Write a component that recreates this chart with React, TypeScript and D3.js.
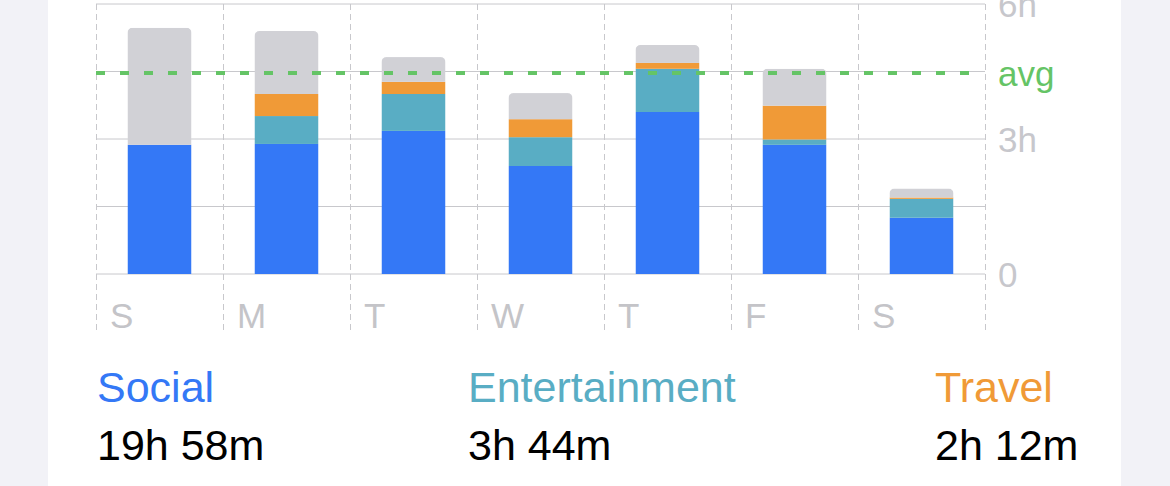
import React from "react";
import * as d3 from "d3";

const days = ["S", "M", "T", "W", "T", "F", "S"];
const social = [2.87, 2.89, 3.18, 2.4, 3.6, 2.87, 1.25];
const entertainment = [0, 0.62, 0.82, 0.64, 0.96, 0.12, 0.42];
const travel = [0, 0.49, 0.27, 0.4, 0.13, 0.75, 0.03];
const other = [2.6, 1.4, 0.55, 0.58, 0.4, 0.82, 0.2];
const yTicks = [0, 1.5, 3, 4.5, 6];
const yLabels = [
  { v: 0, t: "0" },
  { v: 3, t: "3h" },
  { v: 6, t: "6h" },
];
const legendNames = ["Social", "Entertainment", "Travel"];
const legendValues = ["19h 58m", "3h 44m", "2h 12m"];

const keys = ["social", "entertainment", "travel", "other"];
const colors: Record<string, string> = {
  social: "#3478f6",
  entertainment: "#59adc4",
  travel: "#f09a37",
  other: "#d1d1d6",
};
const legendColors = ["#3478f6", "#59adc4", "#f09a37"];
const legendX = [97, 468, 935];

const FONT = "'Liberation Sans', Arial, Helvetica, sans-serif";

export default function App() {
  const W = 1170;
  const H = 486;
  const left = 96;
  const right = 985;
  const x = d3
    .scaleBand<number>()
    .domain(days.map((_, i) => i))
    .range([left, right])
    .padding(0);
  const y = d3.scaleLinear().domain([0, 6]).range([274, 4]);
  const barW = 64;
  const step = x.step();

  const rows = days.map((_, i) => ({
    social: social[i],
    entertainment: entertainment[i],
    travel: travel[i],
    other: other[i],
  }));
  const stack = d3.stack<any>().keys(keys)(rows);
  const totals = rows.map((r) => r.social + r.entertainment + r.travel + r.other);
  const avg = d3.mean(totals) as number;

  const r = 5;
  const clipPath = (i: number) => {
    const x0 = (x(i) as number) + (step - barW) / 2;
    const x1 = x0 + barW;
    const yt = y(totals[i]);
    const yb = y(0);
    const p = d3.path();
    p.moveTo(x0, yb);
    p.lineTo(x0, yt + r);
    p.arcTo(x0, yt, x0 + r, yt, r);
    p.lineTo(x1 - r, yt);
    p.arcTo(x1, yt, x1, yt + r, r);
    p.lineTo(x1, yb);
    p.closePath();
    return p.toString();
  };

  const vLines = d3.range(days.length + 1).map((i) => left + i * step);

  return (
    <svg
      width={W}
      height={H}
      style={{ position: "absolute", left: 0, top: 0, display: "block" }}
      fontFamily={FONT}
    >
      <rect x={0} y={0} width={W} height={H} fill="#f2f2f7" />
      <rect x={48} y={0} width={1073} height={H} fill="#ffffff" />
      <defs>
        {days.map((_, i) => (
          <clipPath id={`bar-clip-${i}`} key={i}>
            <path d={clipPath(i)} />
          </clipPath>
        ))}
      </defs>
      {/* horizontal gridlines */}
      {yTicks.map((t) => (
        <line
          key={t}
          x1={left}
          x2={right}
          y1={y(t)}
          y2={y(t)}
          stroke="#c8c8cc"
          strokeWidth={1}
        />
      ))}
      {/* vertical dashed lines */}
      {vLines.map((vx, i) => (
        <line
          key={i}
          x1={vx + 0.5}
          x2={vx + 0.5}
          y1={4}
          y2={334}
          stroke="#c8c8cc"
          strokeWidth={1}
          strokeDasharray="6 4"
        />
      ))}
      {/* bars */}
      {days.map((_, i) => (
        <g key={i} clipPath={`url(#bar-clip-${i})`}>
          {stack.map((s) => {
            const d = s[i];
            const h = y(d[0]) - y(d[1]);
            if (h <= 0) return null;
            return (
              <rect
                key={s.key}
                x={(x(i) as number) + (step - barW) / 2}
                y={y(d[1])}
                width={barW}
                height={h}
                fill={colors[s.key]}
              />
            );
          })}
        </g>
      ))}
      {/* avg line */}
      <line
        x1={left}
        x2={right - 14}
        y1={y(avg)}
        y2={y(avg)}
        stroke="#65c466"
        strokeWidth={4}
        strokeDasharray="9 15"
      />
      {/* y labels */}
      {yLabels.map((l) => (
        <text
          key={l.t}
          x={998}
          y={y(l.v)}
          dy="0.36em"
          fontSize={35}
          fill="#c7c7cc"
        >
          {l.t}
        </text>
      ))}
      <text x={998} y={y(avg)} dy="0.36em" fontSize={35} fill="#65c466">
        avg
      </text>
      {/* day labels */}
      {days.map((d, i) => (
        <text
          key={i}
          x={(x(i) as number) + 14}
          y={328}
          fontSize={35}
          fill="#c4c4c8"
        >
          {d}
        </text>
      ))}
      {/* legend */}
      {legendNames.map((n, i) => (
        <g key={n}>
          <text x={legendX[i]} y={402} fontSize={43} fill={legendColors[i]}>
            {n}
          </text>
          <text x={legendX[i]} y={460} fontSize={43} fill="#000000">
            {legendValues[i]}
          </text>
        </g>
      ))}
    </svg>
  );
}
